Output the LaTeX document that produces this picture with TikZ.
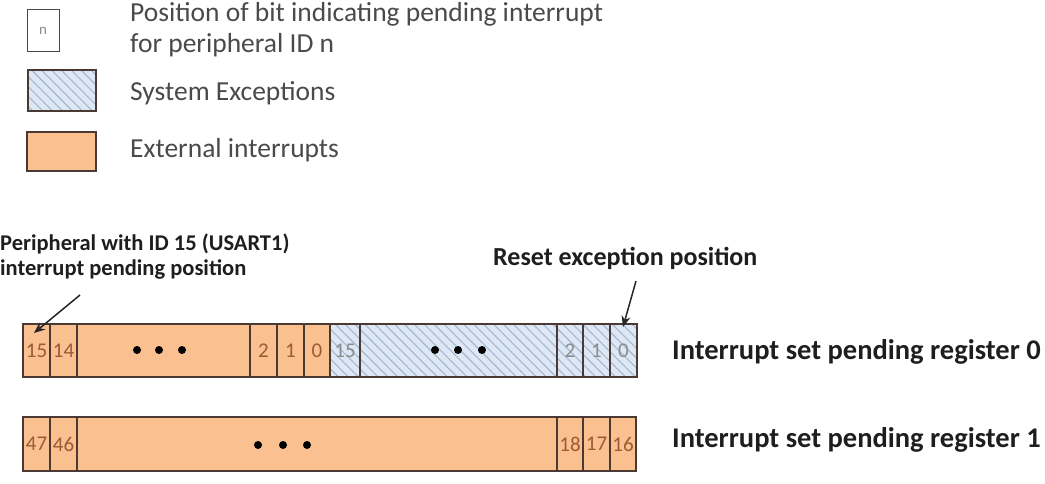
\documentclass[tikz,border=0pt]{standalone}
\usepackage{fontspec}
\setmainfont{Carlito}
\usetikzlibrary{patterns.meta,arrows.meta,calc}
\definecolor{orng}{HTML}{FBC08F}
\definecolor{hatchbg}{HTML}{DDE8F4}
\definecolor{hatchln}{HTML}{A3B8D0}
\definecolor{edge}{HTML}{4A3A33}
\definecolor{numor}{HTML}{9A5B35}
\definecolor{numgy}{HTML}{8C8C8C}
\definecolor{legtxt}{HTML}{4A4A4A}
\definecolor{lbl}{HTML}{1E1E1E}
\tikzset{
  cell/.style={draw=edge, line width=1.1pt, inner sep=0pt, font=\fontsize{21}{21}\selectfont},
  ext/.style={cell, fill=orng, text=numor},
  sysx/.style={cell, text=numgy, preaction={fill=hatchbg},
    pattern={Lines[angle=-45,distance=7pt,line width=1.1pt]}, pattern color=hatchln},
  r0/.style={minimum height=53pt},
  r1/.style={minimum height=54pt},
  dotm/.style={fill=black},
  legtext/.style={text=legtxt, font=\fontsize{27.5}{31}\selectfont, inner sep=0pt, align=left},
  note/.style={text=lbl, font=\bfseries\fontsize{22.5}{25}\selectfont, inner sep=0pt, align=left},
  notetwo/.style={text=lbl, font=\bfseries\fontsize{26}{26}\selectfont, inner sep=0pt},
  reglbl/.style={text=lbl, font=\bfseries\fontsize{28.5}{28.5}\selectfont, inner sep=0pt},
  pointer/.style={draw=black!85, line width=1.5pt, -{Stealth[length=11pt,width=9pt]}}
}
\begin{document}
\begin{tikzpicture}[x=1pt,y=-1pt]
\useasboundingbox (0,0) rectangle (1045,484);
% legend
\node[draw=legtxt, line width=1pt, fill=white, minimum width=32pt, minimum height=42pt, inner sep=0pt,
      text=numgy, font=\fontsize{15}{15}\selectfont] (lgn) at (43,31) {n};
\node[sysx, minimum width=68pt, minimum height=41pt] (lgs) at (62,90.5) {};
\node[ext, minimum width=69pt, minimum height=39pt] (lge) at (61.5,151.5) {};
\node[legtext, anchor=west] (tn) at (130,30) {Position of bit indicating pending interrupt\\for peripheral ID n};
\node[legtext, anchor=west] (ts) at (130,93) {System Exceptions};
\node[legtext, anchor=west] (te) at (130,150) {External interrupts};
% register 0
\node[ext, r0, minimum width=27pt] (a15) at (36.5,350.5) {15};
\node[ext, r0, minimum width=27pt] (a14) at (63.5,350.5) {14};
\node[ext, r0, minimum width=173pt] (adots) at (163.5,350.5) {};
\node[ext, r0, minimum width=27pt] (a2) at (263.5,350.5) {2};
\node[ext, r0, minimum width=27pt] (a1) at (290.5,350.5) {1};
\node[ext, r0, minimum width=26pt] (a0) at (317,350.5) {0};
\node[sysx, r0, minimum width=30pt] (s15) at (345,350.5) {15};
\node[sysx, r0, minimum width=197pt] (sdots) at (458.5,350.5) {};
\node[sysx, r0, minimum width=26pt] (s2) at (570,350.5) {2};
\node[sysx, r0, minimum width=27pt] (s1) at (596.5,350.5) {1};
\node[sysx, r0, minimum width=27pt] (s0) at (623.5,350.5) {0};
\foreach \x in {137,159,182,435,458,482} \fill[dotm] (\x,350) circle (4pt);
% register 1
\node[ext, r1, minimum width=27pt] (b47) at (36.5,444) {47};
\node[ext, r1, minimum width=27pt] (b46) at (63.5,444) {46};
\node[ext, r1, minimum width=480pt] (bdots) at (317,444) {};
\node[ext, r1, minimum width=26pt] (b18) at (570,444) {18};
\node[ext, r1, minimum width=27pt] (b17) at (596.5,444) {17};
\node[ext, r1, minimum width=26pt] (b16) at (623,444) {16};
\foreach \x in {258,283,307} \fill[dotm] (\x,445) circle (4pt);
% labels
\node[reglbl, anchor=west] (l0) at (672,352) {Interrupt set pending register 0};
\node[reglbl, anchor=west] (l1) at (672,440) {Interrupt set pending register 1};
\node[note, anchor=north west] (np) at (0,234) {Peripheral with ID 15 (USART1)\\interrupt pending position};
\node[notetwo, anchor=west] (nr) at (493,258) {Reset exception position};
% pointers
\coordinate (p1s) at (80,295);
\coordinate (p1e) at (34,333);
\coordinate (p2s) at (636,281);
\coordinate (p2e) at (623,327);
\draw[pointer] (p1s) -- (p1e);
\draw[pointer] (p2s) -- (p2e);
\end{tikzpicture}
\end{document}
